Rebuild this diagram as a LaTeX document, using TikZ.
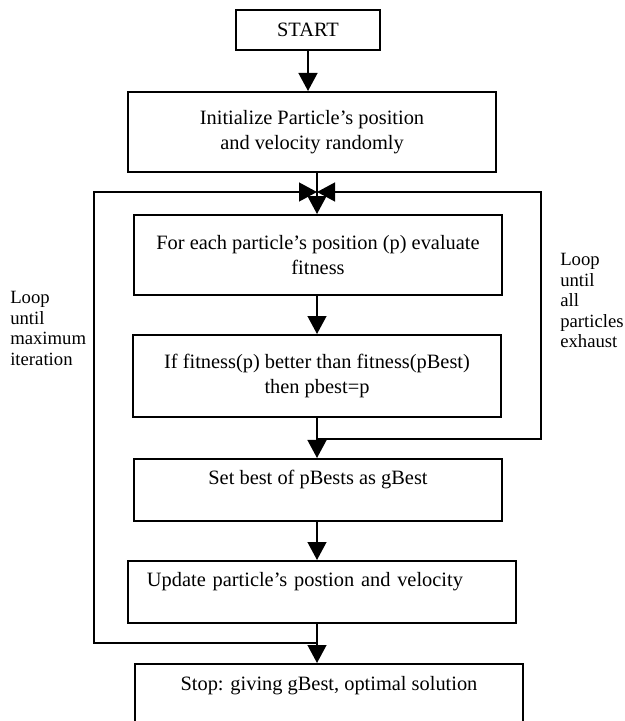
\documentclass[tikz,border=0pt]{standalone}
\usepackage{fontspec}
\setmainfont{Liberation Serif}
\usetikzlibrary{arrows.meta}
\tikzset{box/.style={draw, rectangle, line width=1.4pt, align=center, inner sep=0pt,
      font=\fontsize{14.5}{18}\selectfont},
  onebox/.style={box, anchor=north, inner ysep=0.3cm, text height=0.35cm},
  arr/.style={line width=1.4pt, -{Triangle[length=0.45cm, width=0.47cm]}},
  looptext/.style={anchor=north west, align=left, inner sep=0pt,
      font=\fontsize{13.3}{14.6}\selectfont}}

\begin{document}
\begin{tikzpicture}[x=0.025cm, y=-0.025cm]
    \useasboundingbox (0,0) rectangle (624,721);
    \clip (0,0) rectangle (624,721);
    \coordinate (ax) at (317,0);
    % boxes
    \node[box, minimum width=3.6cm, minimum height=1cm] (start) at (308,30) {START};
    \node[box, minimum width=9.2cm, minimum height=2cm] (init) at (312,132)
        {Initialize Particle's position\\and velocity randomly};
    \node[box, minimum width=9.18cm, minimum height=2cm] (eval) at (318,255)
        {For each particle's position (p) evaluate\\fitness};
    \node[box, minimum width=9.18cm, minimum height=2.05cm] (cmp) at (317,376)
        {If fitness(p) better than fitness(pBest)\\then pbest=p};
    \node[onebox, minimum width=9.18cm, text depth=0.6cm] (gbest) at (318,458)
        {Set best of pBests as gBest};
    \node[onebox, minimum width=9.7cm, text depth=0.6cm, align=left, inner xsep=0.475cm,
        text width=8.75cm] (upd) at (322,560) {Update particle's postion and velocity};
    \node[onebox, minimum width=9.7cm, text depth=1cm] (stop) at (329,663)
        {Stop: giving gBest, optimal solution};
    % loop labels
    \node[looptext] (lloop) at (10,291) {Loop\\until\\maximum\\iteration};
    \node[looptext] (rloop) at (560,253) {Loop\\until\\all\\particles\\exhaust};
    % corners of the loops
    \coordinate (top) at (317,192);
    \coordinate (jl) at (317,643);
    \coordinate (lb) at (94,643);
    \coordinate (lt) at (94,192);
    \coordinate (jr) at (317,439);
    \coordinate (rb) at (541,439);
    \coordinate (rt) at (541,192);
    % flow
    \draw[arr] (start.south) -- (start.south |- init.north);
    \draw[arr] (init.south -| ax) -- (eval.north -| ax);
    \draw[arr] (eval.south -| ax) -- (cmp.north -| ax);
    \draw[arr] (cmp.south -| ax) -- (gbest.north -| ax);
    \draw[arr] (gbest.south -| ax) -- (upd.north -| ax);
    \draw[arr] (upd.south -| ax) -- (stop.north -| ax);
    \draw[arr] (jl) -- (lb) -- (lt) -- (top);
    \draw[arr] (jr) -- (rb) -- (rt) -- (top);
\end{tikzpicture}
\end{document}
